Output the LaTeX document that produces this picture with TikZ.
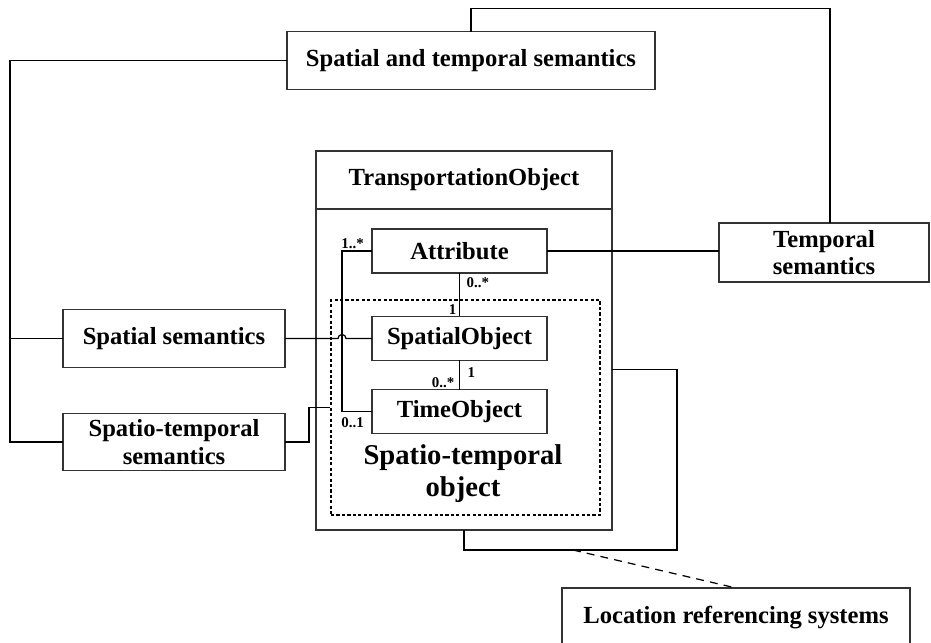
\documentclass[tikz,border=0pt]{standalone}
\usepackage{fontspec}
\setmainfont{Liberation Serif}
\usetikzlibrary{positioning}

\begin{document}
\begin{tikzpicture}[
  box/.style={draw=black!80, line width=0.6pt, outer sep=0pt, align=center, font=\fontsize{14}{15.5}\selectfont\bfseries, inner sep=2pt},
  cls/.style={box, minimum width=3.5cm, minimum height=0.88cm},
  sem/.style={box, minimum width=4.44cm, minimum height=1.15cm},
  group/.style={draw, line width=1pt, dash pattern=on 1.8pt off 1.3pt, minimum width=5.38cm, minimum height=4.3cm},
  grouptitle/.style={align=center, font=\fontsize{16.3}{18.2}\selectfont\bfseries},
  mult/.style={font=\fontsize{8.5}{9}\selectfont\bfseries, inner sep=1pt},
  link/.style={draw=black, line width=0.7pt},
  dep/.style={link, dash pattern=on 4.5pt off 3.5pt}
]
\useasboundingbox (0,0) rectangle (18.62,12.84);
\clip (0,0) rectangle (18.62,12.84);

\node[box, minimum width=5.92cm, minimum height=1.16cm] (tobj) at (9.28,9.24) {TransportationObject};
\node[box, minimum width=5.92cm, minimum height=6.42cm, below=0pt of tobj] (tbody) {};

\node[group] (stobj) at (9.31,4.69) {};
\node[cls] (attr) at (9.19,7.82) {Attribute};
\node[cls] (spo) at (9.19,6.07) {SpatialObject};
\node[cls] (timo) at (9.19,4.61) {TimeObject};
\node[grouptitle] (stlabel) at (9.26,3.36) {Spatio-temporal\\object};

\node[sem, minimum width=7.36cm] (sts) at (9.42,11.63) {Spatial and temporal semantics};
\node[sem] (ssem) at (3.48,6.07) {Spatial semantics};
\node[sem] (stsem) at (3.48,4.0) {Spatio-temporal\\semantics};
\node[sem, minimum width=4.2cm, minimum height=1.18cm] (tsem) at (16.48,7.79) {Temporal\\semantics};
\node[sem, minimum width=6.96cm, minimum height=1.2cm] (lrs) at (14.72,0.48) {Location referencing systems};

\draw[link] (sts.west) -| ([xshift=-1.06cm]stsem.west) -- (stsem.west);
\draw[link] (ssem.west) -- ++(-1.06,0);
\draw[link] (sts.north) -- ++(0,0.46) -| ([xshift=0.12cm]tsem.north);
\draw[link] (attr.east) -- (attr.east -| tsem.west);
\draw[link] (attr.west) -- ++(-0.6,0) |- (timo.west);
\draw[link] (attr.south) -- (spo.north);
\draw[link] (spo.south) -- (timo.north);
\draw[link] (ssem.east) -- ([xshift=-0.68cm]spo.west) arc[start angle=180, end angle=0, radius=0.08] -- (spo.west);
\draw[link] (stsem.east) -- ++(0.48,0) |- (stobj.west);
\draw[link] (tbody.east) -- ++(1.3,0) |- ([yshift=-0.4cm]tbody.south) -- (tbody.south);
\coordinate (lrsfoot) at ([xshift=2.18cm, yshift=-0.4cm]tbody.south);
\draw[dep] (lrsfoot) -- (lrs.north);

\node[mult, anchor=south east] (m1) at ([xshift=-0.12cm]attr.west) {1..*};
\node[mult, anchor=north east] (m2) at ([xshift=-0.12cm, yshift=-0.08cm]timo.west) {0..1};
\node[mult, anchor=north west] (m3) at ([xshift=0.1cm, yshift=-0.05cm]attr.south) {0..*};
\node[mult, anchor=south east] (m4) at ([xshift=-0.02cm]spo.north) {1};
\node[mult, anchor=north west] (m5) at ([xshift=0.12cm, yshift=-0.1cm]spo.south) {1};
\node[mult, anchor=south east] (m6) at ([xshift=-0.06cm]timo.north) {0..*};

\end{tikzpicture}
\end{document}
